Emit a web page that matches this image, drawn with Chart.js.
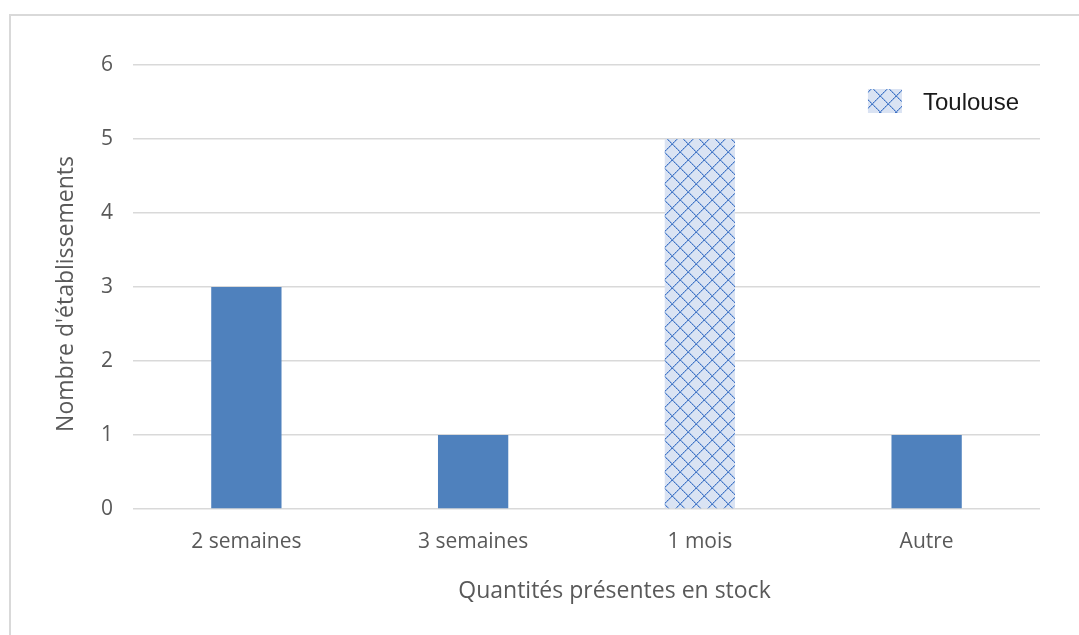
<!DOCTYPE html>
<html>
<head>
<meta charset="utf-8">
<script src="https://cdn.jsdelivr.net/npm/chart.js@4"></script>
<style>
    body { margin: 0; background: #fff; }
    #wrap { position: relative; width: 1079px; height: 635px; overflow: hidden; }
    #frame { position: absolute; left: 9px; top: 14px; width: 1100px; height: 700px; border: 2px solid #d9d9d9; }
    #stockChart { position: absolute; left: 0; top: 0; }
</style>
</head>
<body>
<div id="wrap">
    <div id="frame"></div>
    <canvas id="stockChart" width="1079" height="635"></canvas>
</div>
<script>
const categories = ["2 semaines", "3 semaines", "1 mois", "Autre"];
const counts = [3, 1, 5, 1];
const hatched = [false, false, true, false];
const yTicks = [0, 1, 2, 3, 4, 5, 6];
const seriesName = "Toulouse";

const solidBlue = "#4f81bd";

// diagonal grid tile used for the hatched bar and its legend box
function makeHatch() {
    const size = 16;
    const tile = document.createElement("canvas");
    tile.width = size;
    tile.height = size;
    const c = tile.getContext("2d");
    c.fillStyle = "#dae3f3";
    c.fillRect(0, 0, size, size);
    for (let i = 0; i < size; i++) {
        c.fillStyle = "#9fbbe4";
        c.fillRect((i + 1) % size, i, 1, 1);
        c.fillRect((size - i) % size, i, 1, 1);
        c.fillStyle = i % 2 ? "#6b96d4" : "#4472c4";
        c.fillRect(i, i, 1, 1);
        c.fillRect(size - 1 - i, i, 1, 1);
    }
    return document.getElementById("stockChart").getContext("2d").createPattern(tile, "repeat");
}

const hatch = makeHatch();

// move an axis title a few pixels without touching the scale itself
function nudgeTitle(scale, dx, dy) {
    if (scale._nudged) return;
    const draw = scale.drawTitle.bind(scale);
    scale.drawTitle = function () {
        this.ctx.save();
        this.ctx.translate(dx, dy);
        draw();
        this.ctx.restore();
    };
    scale._nudged = true;
}

// legend drawn inside the plot area, top right
const insideLegend = {
    id: "insideLegend",
    afterDraw(chart) {
        const {ctx, chartArea} = chart;
        const label = chart.data.datasets[0].label;
        ctx.save();
        ctx.font = "24px 'Liberation Sans', Arial, sans-serif";
        const textW = ctx.measureText(label).width;
        const textX = chartArea.right - 21 - textW;
        const boxW = 34, boxH = 24;
        const boxX = textX - 21 - boxW;
        const boxY = chartArea.top + 24;
        ctx.fillStyle = hatch;
        ctx.fillRect(boxX, boxY, boxW, boxH);
        ctx.fillStyle = "#1a1a1a";
        ctx.textBaseline = "middle";
        ctx.fillText(label, textX, boxY + boxH / 2 + 2);
        ctx.restore();
    }
};

const tickFont = { family: "'Open Sans', sans-serif", size: 21 };
const titleFont = { family: "'Open Sans', sans-serif", size: 23 };

new Chart(document.getElementById("stockChart"), {
    type: "bar",
    data: {
        labels: categories,
        datasets: [{
            label: seriesName,
            data: counts,
            backgroundColor: hatched.map(h => h ? hatch : solidBlue),
            borderWidth: 0,
            barPercentage: 0.31,
            categoryPercentage: 1
        }]
    },
    options: {
        responsive: false,
        animation: false,
        layout: { padding: { left: 0, top: 65, right: 39, bottom: 0 } },
        plugins: {
            legend: { display: false },
            tooltip: { enabled: false }
        },
        scales: {
            x: {
                grid: { display: false },
                border: { display: false },
                ticks: { color: "#595959", font: tickFont, padding: 12 },
                title: {
                    display: true,
                    text: "Quantités présentes en stock",
                    color: "#595959",
                    font: titleFont,
                    padding: { top: 0, bottom: 30 }
                },
                afterFit(scale) {
                    scale.height = 126;
                    nudgeTitle(scale, 28, 0);
                }
            },
            y: {
                min: 0,
                max: 6,
                afterBuildTicks(scale) { scale.ticks = yTicks.map(v => ({ value: v })); },
                grid: { color: "#d9d9d9", lineWidth: 1.5, drawTicks: false },
                border: { display: false },
                ticks: { color: "#595959", font: tickFont, padding: 20 },
                title: {
                    display: true,
                    text: "Nombre d'établissements",
                    color: "#595959",
                    font: titleFont,
                    padding: { top: 53, bottom: 0 }
                },
                afterFit(scale) {
                    scale.width = 133;
                    nudgeTitle(scale, 0, 7);
                }
            }
        }
    },
    plugins: [insideLegend]
});
</script>
</body>
</html>
